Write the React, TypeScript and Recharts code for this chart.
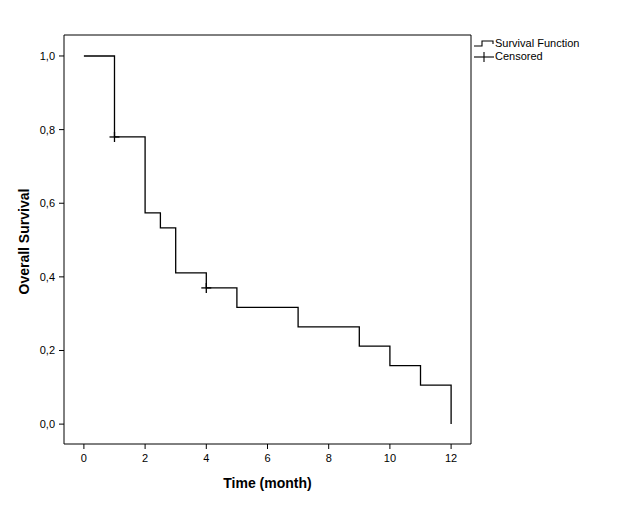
import { ComposedChart, Line, Scatter, XAxis, YAxis } from 'recharts';

const times = [0, 1, 2, 2.5, 3, 4, 5, 7, 9, 10, 11, 12];
const survival = [1.0, 0.78, 0.574, 0.533, 0.411, 0.37, 0.317, 0.264, 0.212, 0.159, 0.106, 0.0];
const censoredTimes = [1, 4];
const censoredSurvival = [0.78, 0.37];
const xTicks = [0, 2, 4, 6, 8, 10, 12];
const yTicks = [0, 0.2, 0.4, 0.6, 0.8, 1.0];

const curve = times.map((t, i) => ({ t, s: survival[i] }));
const censored = censoredTimes.map((t, i) => ({ t, s: censoredSurvival[i] }));

const font = '"Liberation Sans", Arial, sans-serif';

const Cross = (props: any) => {
  const { cx, cy } = props;
  return (
    <g stroke="#000" strokeWidth={1.3}>
      <line x1={cx - 5} x2={cx + 5} y1={cy} y2={cy} />
      <line x1={cx} x2={cx} y1={cy - 5} y2={cy + 5} />
    </g>
  );
};

export default function App() {
  return (
    <div style={{ position: 'fixed', left: 0, top: 0, width: 631, height: 506, background: '#fff', fontFamily: font }}>
      <ComposedChart
        width={631}
        height={506}
        margin={{ top: 34, right: 159, left: 0, bottom: 0 }}
      >
        <XAxis
          xAxisId="main"
          dataKey="t"
          type="number"
          domain={[-0.65, 12.65]}
          ticks={xTicks}
          allowDataOverflow
          height={62}
          tickSize={5}
          tickMargin={5}
          stroke="#000"
          tick={{ fill: '#000', fontSize: 11, fontFamily: font }}
          label={{ value: 'Time (month)', position: 'insideBottom', offset: 18, fill: '#000', fontSize: 14, fontWeight: 'bold', fontFamily: font }}
        />
        <XAxis xAxisId="top" orientation="top" type="number" domain={[0, 1]} height={1} tick={false} tickLine={false} stroke="#000" />
        <YAxis
          yAxisId="main"
          type="number"
          domain={[-0.054, 1.057]}
          ticks={yTicks}
          allowDataOverflow
          width={64}
          tickSize={5}
          tickMargin={4}
          stroke="#000"
          tickFormatter={(v: number) => v.toFixed(1).replace('.', ',')}
          tick={{ fill: '#000', fontSize: 11, fontFamily: font }}
          label={{ value: 'Overall Survival', angle: -90, position: 'insideLeft', offset: 24, dy: 55, fill: '#000', fontSize: 14, fontWeight: 'bold', fontFamily: font }}
        />
        <YAxis yAxisId="right" orientation="right" type="number" domain={[0, 1]} width={1} tick={false} tickLine={false} stroke="#000" />
        <Line
          xAxisId="main"
          yAxisId="main"
          data={curve}
          dataKey="s"
          type="stepAfter"
          stroke="#000"
          strokeWidth={1.3}
          dot={false}
          activeDot={false}
          isAnimationActive={false}
        />
        <Scatter
          xAxisId="main"
          yAxisId="main"
          data={censored}
          dataKey="s"
          shape={<Cross />}
          isAnimationActive={false}
        />
      </ComposedChart>
      <div style={{ position: 'absolute', left: 473, top: 37, fontSize: 11, color: '#000', lineHeight: '13px' }}>
        <div style={{ display: 'flex', alignItems: 'center' }}>
          <svg width={22} height={13}>
            <polyline points="1,9 9,9 9,4 20,4 20,7" fill="none" stroke="#000" strokeWidth={1.1} />
          </svg>
          <span>Survival Function</span>
        </div>
        <div style={{ display: 'flex', alignItems: 'center' }}>
          <svg width={22} height={13}>
            <line x1={1} x2={21} y1={7} y2={7} stroke="#000" strokeWidth={1.1} />
            <line x1={11} x2={11} y1={2} y2={12} stroke="#000" strokeWidth={1.1} />
          </svg>
          <span>Censored</span>
        </div>
      </div>
    </div>
  );
}
